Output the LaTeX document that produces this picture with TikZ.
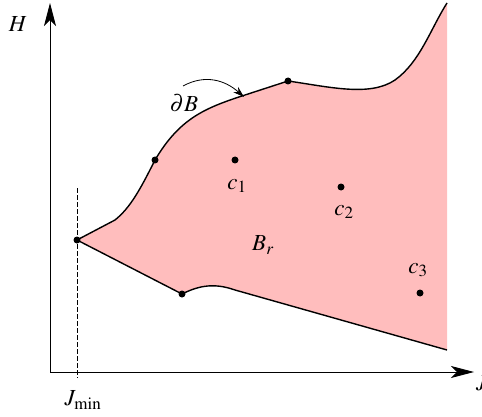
\documentclass[tikz,border=0pt]{standalone}
\usepackage{mathptmx}
\usepackage{fontspec}
\setmainfont{Liberation Serif}
\usetikzlibrary{arrows.meta}
\definecolor{regionpink}{RGB}{255,189,189}
\tikzset{
  dot/.style={circle,fill=black,inner sep=0pt,minimum size=7pt},
  lbl/.style={inner sep=1pt,font=\fontsize{23}{26}\selectfont},
  axisarrow/.style={line width=0.9pt,-{Stealth[length=23pt,width=12pt,inset=6pt]}},
  boundary/.style={line width=1.4pt,line join=round},
}
\begin{document}
\begin{tikzpicture}[x=1pt,y=-1pt]
\useasboundingbox (0,0) rectangle (482,417);
% coordinates
\coordinate (O) at (50,372);
\coordinate (Htip) at (50,3);
\coordinate (Jtip) at (474,372);
\coordinate (R1) at (447,350);
\coordinate (R2) at (447,3);
\coordinate (L1) at (235,290);
% region fill
\fill[regionpink] (77,240) -- (182,294) .. controls (200,285) and (215,283) .. (L1) -- (R1) -- (R2)
  .. controls (430,30) and (420,62) .. (395,80) .. controls (370,97) and (330,87) .. (288,81)
  -- (245,95) .. controls (205,108) and (180,118) .. (155,160)
  .. controls (140,190) and (130,208) .. (115,220) -- cycle;
% boundary lines
\draw[boundary] (77,240) -- (182,294) .. controls (200,285) and (215,283) .. (L1) -- (R1);
\draw[boundary] (R2)
  .. controls (430,30) and (420,62) .. (395,80) .. controls (370,97) and (330,87) .. (288,81)
  -- (245,95) .. controls (205,108) and (180,118) .. (155,160)
  .. controls (140,190) and (130,208) .. (115,220) -- (77,240);
% axes
\draw[axisarrow] (O) -- (Htip);
\draw[axisarrow] (O) -- (Jtip);
% dashed J_min line
\coordinate (Dtop) at (77,188);
\coordinate (Dbot) at (77,378);
\draw[line width=0.8pt,dash pattern=on 5pt off 2pt] (Dtop) -- (Dbot);
% points
\node[dot] (p0) at (77,240) {};
\node[dot] (p1) at (182,294) {};
\node[dot] (p2) at (155,160) {};
\node[dot] (p3) at (288,81) {};
\node[dot] (c1) at (235,160) {};
\node[dot] (c2) at (341,187) {};
\node[dot] (c3) at (420,293) {};
% labels
\node[lbl] (Hl) at (18,24) {$H$};
\node[lbl,anchor=west] (Jl) at (475,383) {$J$};
\node[lbl] (Jmin) at (83,400) {$J_{\min}$};
\node[lbl] (c1l) at (237,186) {$c_1$};
\node[lbl] (c2l) at (344,212) {$c_2$};
\node[lbl] (c3l) at (418,270) {$c_3$};
\node[lbl] (Br) at (263,245) {$B_r$};
\node[lbl] (dB) at (184,103) {$\partial B$};
\coordinate (dBtip) at (244,97);
\draw[line width=0.8pt,-{Stealth[length=11pt,width=7pt]}] (183,86) .. controls (205,74) and (225,80) .. (dBtip);
\end{tikzpicture}
\end{document}
